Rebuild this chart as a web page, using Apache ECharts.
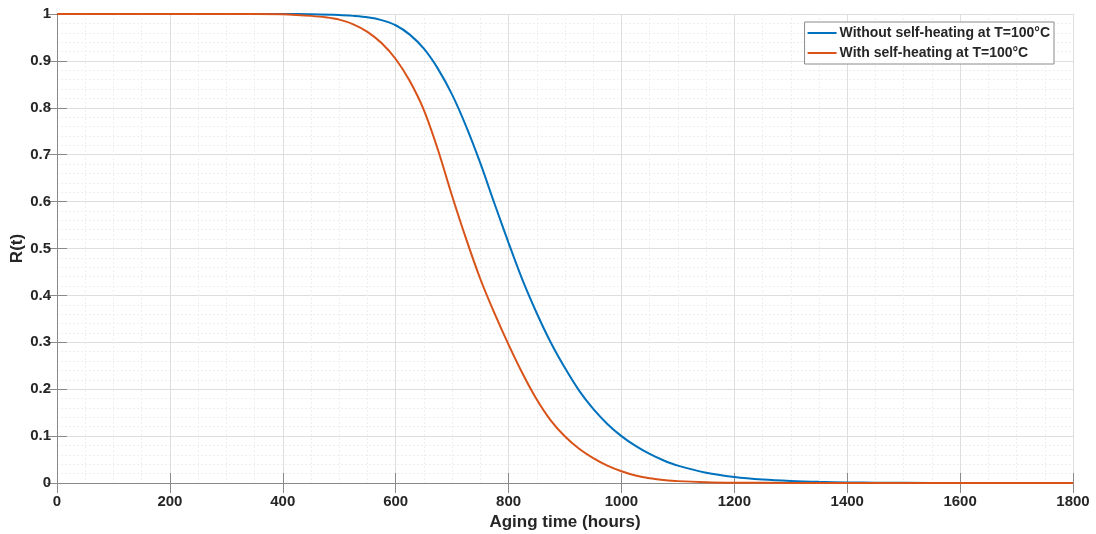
<!DOCTYPE html>
<html>
<head>
<meta charset="utf-8">
<script src="https://cdn.jsdelivr.net/npm/echarts@6/dist/echarts.min.js"></script>
<style>
html,body{margin:0;padding:0;background:#fff;}
#chart{width:1096px;height:534px;}
</style>
</head>
<body>
<div id="chart"></div>
<script>
var seriesNames = ['Without self-heating at T=100°C', 'With self-heating at T=100°C'];
var xTicks = [0, 200, 400, 600, 800, 1000, 1200, 1400, 1600, 1800];
var yTicks = [0, 0.1, 0.2, 0.3, 0.4, 0.5, 0.6, 0.7, 0.8, 0.9, 1];

var blueHours = [0, 100, 200, 300, 400, 450, 500, 525, 550, 575, 600, 625, 650, 675, 700, 725, 750, 775, 800, 825, 850, 875, 900, 925, 950, 975, 1000, 1025, 1050, 1075, 1100, 1150, 1200, 1250, 1300, 1350, 1400, 1450, 1500, 1600, 1700, 1800];
var blueR = [1, 1, 1, 1, 1, 0.9995, 0.998, 0.996, 0.993, 0.987, 0.976, 0.956, 0.926, 0.883, 0.828, 0.76, 0.682, 0.596, 0.512, 0.432, 0.362, 0.299, 0.245, 0.197, 0.158, 0.126, 0.1, 0.079, 0.062, 0.048, 0.037, 0.022, 0.013, 0.0075, 0.0043, 0.0024, 0.0013, 0.0007, 0.0004, 0.0001, 0, 0];

var orangeHours = [0, 100, 200, 300, 400, 425, 450, 475, 500, 525, 550, 575, 600, 625, 650, 675, 700, 725, 750, 775, 800, 825, 850, 875, 900, 925, 950, 975, 1000, 1025, 1050, 1075, 1100, 1150, 1200, 1300, 1400, 1500, 1600, 1700, 1800];
var orangeR = [1, 1, 1, 1, 0.9993, 0.998, 0.996, 0.993, 0.988, 0.978, 0.962, 0.938, 0.904, 0.857, 0.795, 0.71, 0.612, 0.52, 0.435, 0.362, 0.295, 0.233, 0.178, 0.133, 0.099, 0.073, 0.053, 0.037, 0.025, 0.016, 0.01, 0.0065, 0.004, 0.0016, 0.0006, 0.0001, 0, 0, 0, 0, 0];

function pairs(xs, ys) { return xs.map(function (x, i) { return [x, ys[i]]; }); }

var axisGray = '#8a8a8a';
var textCol = '#262626';
var font = 'Liberation Sans, Arial, sans-serif';

var chart = echarts.init(document.getElementById('chart'), null, {renderer: 'canvas'});
var baseX = {
  type: 'value', min: xTicks[0], max: xTicks[xTicks.length - 1], interval: 200,
  axisLine: {show: true, lineStyle: {color: axisGray, width: 1}},
  axisTick: {show: true, inside: true, length: 10, lineStyle: {color: axisGray}},
  minorTick: {show: false, splitNumber: 4}
};
var baseY = {
  type: 'value', min: yTicks[0], max: yTicks[yTicks.length - 1], interval: 0.1,
  axisLine: {show: true, lineStyle: {color: axisGray, width: 1}},
  axisTick: {show: true, inside: true, length: 10, lineStyle: {color: axisGray}},
  minorTick: {show: false, splitNumber: 5}
};
var option = {
  backgroundColor: '#fff',
  animation: false,
  grid: {left: 57, right: 23, top: 14, bottom: 51, containLabel: false, outerBoundsMode: 'none'},
  legend: {
    orient: 'vertical', right: 42, top: 22,
    data: seriesNames,
    icon: 'rect', itemWidth: 29, itemHeight: 2, itemGap: 6,
    padding: [4, 4, 4, 3],
    borderColor: '#8a8a8a', borderWidth: 1, backgroundColor: '#fff',
    textStyle: {fontFamily: font, fontWeight: 'bold', fontSize: 14, color: textCol, padding: [0, 0, 0, -2]}
  },
  xAxis: [
    Object.assign({}, baseX, {
      position: 'bottom',
      name: 'Aging time (hours)', nameLocation: 'middle', nameGap: 30,
      nameTextStyle: {fontFamily: font, fontWeight: 'bold', fontSize: 17, color: textCol},
      axisLabel: {show: true, margin: 11, fontFamily: font, fontWeight: 'bold', fontSize: 15, color: textCol,
        formatter: function (v) { return String(v); }},
      splitLine: {show: true, lineStyle: {color: '#dedede', width: 1}},
      minorSplitLine: {show: true, lineStyle: {color: '#efefef', width: 1, type: [2, 2]}}
    }),
    Object.assign({}, baseX, {position: 'top', axisLabel: {show: false}, splitLine: {show: false}})
  ],
  yAxis: [
    Object.assign({}, baseY, {
      position: 'left',
      name: 'R(t)', nameLocation: 'middle', nameGap: 31, nameRotate: 90, nameMoveOverlap: false,
      nameTextStyle: {fontFamily: font, fontWeight: 'bold', fontSize: 17, color: textCol},
      axisLabel: {show: true, margin: 6, fontFamily: font, fontWeight: 'bold', fontSize: 15, color: textCol},
      splitLine: {show: true, lineStyle: {color: '#dedede', width: 1}},
      minorSplitLine: {show: true, lineStyle: {color: '#efefef', width: 1, type: [2, 2]}}
    }),
    Object.assign({}, baseY, {position: 'right', axisLabel: {show: false}, splitLine: {show: false}})
  ],
  series: [
    {
      name: seriesNames[0], type: 'line', xAxisIndex: 0, yAxisIndex: 0,
      data: pairs(blueHours, blueR), showSymbol: false, symbol: 'none',
      smooth: 0.3,
      lineStyle: {color: '#0072BD', width: 2}, itemStyle: {color: '#0072BD'}, z: 3
    },
    {
      name: seriesNames[1], type: 'line', xAxisIndex: 0, yAxisIndex: 0,
      data: pairs(orangeHours, orangeR), showSymbol: false, symbol: 'none',
      smooth: 0.3,
      lineStyle: {color: '#D95319', width: 2}, itemStyle: {color: '#D95319'}, z: 4
    }
  ]
};
chart.setOption(option);
</script>
</body>
</html>
